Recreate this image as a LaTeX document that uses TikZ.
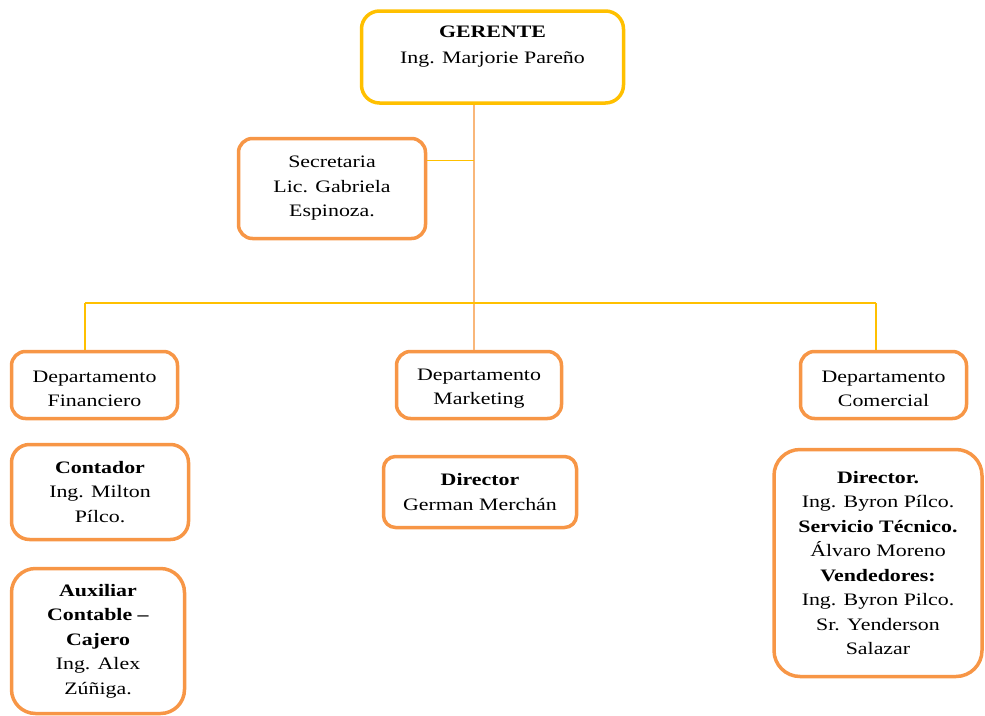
\documentclass[tikz,border=0pt]{standalone}
\usepackage{fontspec}
\setmainfont{Liberation Serif}[FakeStretch=1.25]
\usetikzlibrary{positioning,calc}
\definecolor{oro}{HTML}{FFC000}
\definecolor{naranja}{HTML}{F79646}
\definecolor{tronco}{HTML}{F9B77A}
\newcommand{\bajar}{\rule{0pt}{19pt}}

\begin{document}
\begin{tikzpicture}[x=1pt, y=-1pt, line join=round,
  caja/.style={draw=naranja, line width=3.5pt, rounded corners=14pt, fill=white,
    align=center, inner sep=2pt, font=\fontsize{17.5}{24.5}\selectfont},
  rama/.style={draw=oro, line width=1.8pt}]
\useasboundingbox (0,0) rectangle (985,715);

% cabeza
\node[caja, draw=oro, rounded corners=18pt, minimum width=262pt, minimum height=92pt] (ger) at (492.5,57)
  {\textbf{GERENTE}\\[2pt]Ing. Marjorie Pareño\\ \mbox{}};
\node[caja, minimum width=187pt, minimum height=100pt] (sec) at (332,188.5)
  {Secretaria\\Lic. Gabriela\\Espinoza.};

% departamentos
\node[caja, minimum width=166pt, minimum height=67pt] (fin) at (94.5,385) {\bajar Departamento\\Financiero};
\node[caja, minimum width=165pt, minimum height=67pt] (mkt) at (479,385) {\bajar Departamento\\Marketing};
\node[caja, minimum width=166pt, minimum height=67pt] (com) at (883.5,385) {\bajar Departamento\\Comercial};

% personal
\node[caja, rounded corners=18pt, minimum width=177pt, minimum height=95pt] (cont) at (100,492)
  {\textbf{Contador}\\Ing. Milton\\Pílco.};
\node[caja, rounded corners=24pt, minimum width=173pt, minimum height=145pt] (aux) at (98,641)
  {\textbf{Auxiliar}\\\textbf{Contable –}\\\textbf{Cajero}\\Ing. Alex\\Zúñiga.};
\node[caja, rounded corners=12pt, minimum width=193pt, minimum height=71pt] (dirm) at (480,492)
  {\textbf{Director}\\German Merchán};
\node[caja, rounded corners=26pt, minimum width=208pt, minimum height=227pt] (dirc) at (878,563)
  {\textbf{Director.}\\Ing. Byron Pílco.\\\textbf{Servicio Técnico.}\\Álvaro Moreno\\
   \textbf{Vendedores:}\\Ing. Byron Pilco.\\Sr. Yenderson\\Salazar};

% conectores
\coordinate (hub) at (474,303);
\coordinate (busL) at (85,303);
\coordinate (busR) at (876,303);
\coordinate (secE) at ($(sec.north east)!0.23!(sec.south east)$);
\draw[draw=tronco, line width=1.5pt] (ger.south -| hub) -- (mkt.north -| hub);
\draw[rama] (secE) -- (secE -| hub);
\draw[rama] (busL) -- (busR);
\draw[rama] (busL) -- (fin.north -| busL);
\draw[rama] (busR) -- (com.north -| busR);
\end{tikzpicture}
\end{document}
